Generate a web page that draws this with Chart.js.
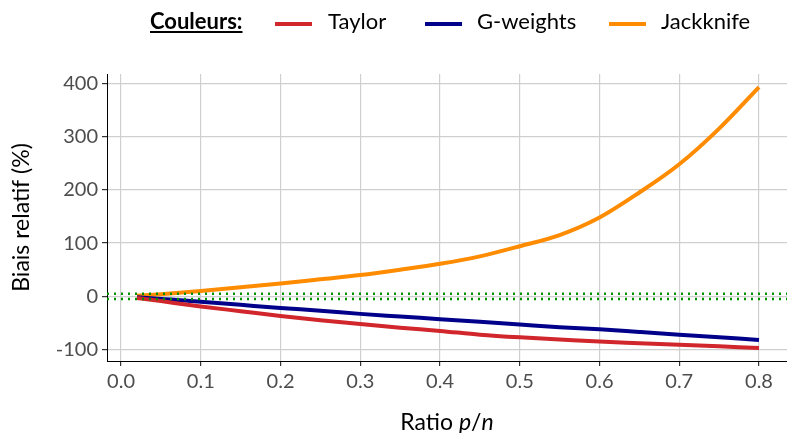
<!DOCTYPE html>
<html>
<head>
<meta charset="utf-8">
<script src="https://cdn.jsdelivr.net/npm/chart.js@4.4.1/dist/chart.umd.min.js"></script>
<style>
  html, body { margin: 0; padding: 0; background: #fff; }
  #wrap { position: relative; width: 787px; height: 433px; font-family: Lato, "DejaVu Sans", sans-serif; color: #000; }
  #c { display: block; }
  .lg { position: absolute; font-size: 22px; line-height: 22px; top: 10px; white-space: nowrap; }
  .lg.ttl { font-weight: bold; text-decoration: underline; }
  .sw { position: absolute; top: 22px; width: 37px; height: 4px; }
  #xtitle { position: absolute; left: 107px; width: 680px; top: 409px; text-align: center; font-size: 23px; line-height: 24px; }
</style>
</head>
<body>
<div id="wrap">
  <canvas id="c" width="787" height="433"></canvas>
  <div id="legend"></div>
  <div id="xtitle">Ratio <i>p</i>/<i>n</i></div>
</div>
<script>
// valeurs
const ratio     = [0.02, 0.05, 0.1, 0.15, 0.2, 0.25, 0.3, 0.35, 0.4, 0.45, 0.5, 0.55, 0.6, 0.65, 0.7, 0.75, 0.8];
const taylor    = [-3, -9, -19, -28, -37, -45, -52, -59, -65, -72, -77, -81, -85, -88, -91, -94, -97];
const gweights  = [-2, -5, -10, -16, -22, -27, -33, -38, -43, -48, -53, -58, -62, -67, -72, -77, -82];
const jackknife = [1, 4, 10, 17, 24, 32, 40, 50, 61, 75, 94, 115, 148, 195, 248, 315, 393];
const xTicks = [0, 0.1, 0.2, 0.3, 0.4, 0.5, 0.6, 0.7, 0.8];
const yTicks = [-100, 0, 100, 200, 300, 400];
const refLines = [5, -5];
const X_MIN = -0.0176, X_MAX = 0.8351, Y_MIN = -121.5, Y_MAX = 417.5;

const SERIES = [
  { label: 'Taylor',    data: taylor,    color: '#d1262b', sw: 275, tx: 328 },
  { label: 'G-weights', data: gweights,  color: '#00008b', sw: 425, tx: 477 },
  { label: 'Jackknife', data: jackknife, color: '#ff8c00', sw: 609, tx: 661 },
];

const leg = document.getElementById('legend');
leg.innerHTML = '<span class="lg ttl" style="left:150px">Couleurs:</span>' + SERIES.map(s =>
  `<span class="sw" style="left:${s.sw}px;background:${s.color}"></span>` +
  `<span class="lg" style="left:${s.tx}px">${s.label}</span>`).join('');

const pts = arr => arr.map((v, i) => ({ x: ratio[i], y: v }));

const datasets = refLines.map(v => ({
  data: [{ x: X_MIN, y: v }, { x: X_MAX, y: v }],
  borderColor: '#009100', borderWidth: 2.5, borderDash: [2, 5], pointRadius: 0,
}));
SERIES.forEach(s => datasets.push({
  label: s.label, data: pts(s.data), borderColor: s.color, borderWidth: 4,
  pointRadius: 0, cubicInterpolationMode: 'monotone', borderCapStyle: 'butt',
}));

const tickFont = { family: 'Lato, "DejaVu Sans", sans-serif', size: 20 };

new Chart(document.getElementById('c'), {
  type: 'line',
  data: { datasets },
  options: {
    responsive: false, animation: false,
    layout: { padding: { top: 74, left: 0, right: 0, bottom: 0 } },
    plugins: { legend: { display: false }, tooltip: { enabled: false } },
    scales: {
      x: {
        type: 'linear', min: X_MIN, max: X_MAX,
        afterBuildTicks: s => { s.ticks = xTicks.map(v => ({ value: v })); },
        afterFit: s => { s.height = 72; },
        ticks: { font: tickFont, color: '#4d4d4d', padding: 4, callback: v => v.toFixed(1) },
        grid: { color: '#cfcfcf', lineWidth: 1.2, tickLength: 5, tickColor: '#333' },
        border: { display: true, color: '#000', width: 1 },
      },
      y: {
        min: Y_MIN, max: Y_MAX,
        afterBuildTicks: s => { s.ticks = yTicks.map(v => ({ value: v })); },
        afterFit: s => { s.width = 107; },
        ticks: { font: tickFont, color: '#4d4d4d', padding: 4 },
        grid: { color: '#cfcfcf', lineWidth: 1.2, tickLength: 5, tickColor: '#333' },
        border: { display: true, color: '#000', width: 1 },
        title: { display: true, text: 'Biais relatif (%)', color: '#000',
                 font: { family: 'Lato, "DejaVu Sans", sans-serif', size: 23 }, padding: { top: 8, bottom: 0 } },
      },
    },
  },
});
</script>
</body>
</html>
